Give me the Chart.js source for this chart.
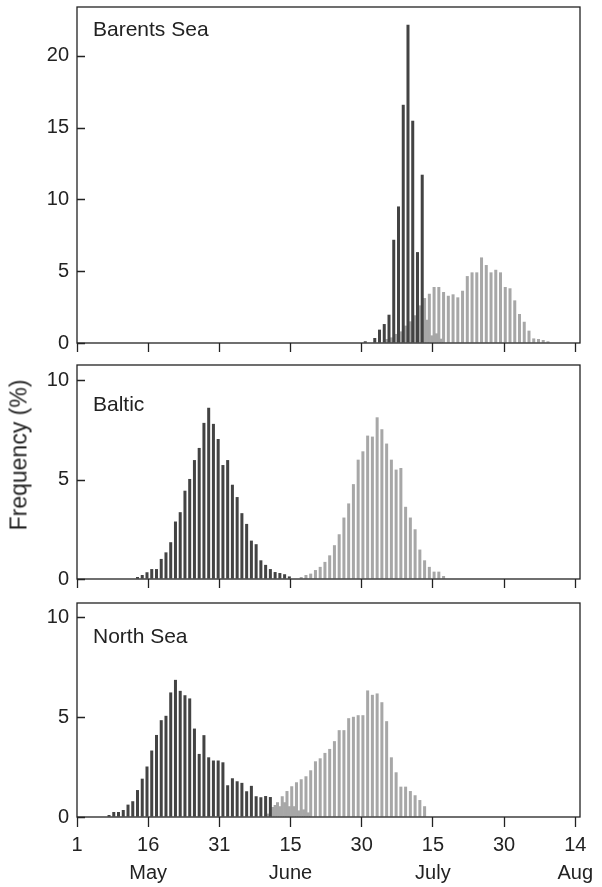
<!DOCTYPE html>
<html>
<head>
<meta charset="utf-8">
<script src="https://cdn.jsdelivr.net/npm/chart.js@4.4.1/dist/chart.umd.min.js"></script>
<style>
  body { margin: 0; background: #fff; width: 602px; height: 887px; position: relative; overflow: hidden;
         font-family: "Liberation Sans", Arial, sans-serif; }
  .panel { position: absolute; left: 0; width: 602px; }
  #ylab { position: absolute; left: 19px; top: 455px; transform: translate(-50%, -50%) rotate(-90deg);
          font-size: 23px; color: #222; white-space: nowrap; }
</style>
</head>
<body>
<div class="panel" style="top:0;height:352px"><canvas id="barents"></canvas></div>
<div class="panel" style="top:356px;height:232px"><canvas id="baltic"></canvas></div>
<div class="panel" style="top:592px;height:295px"><canvas id="northsea"></canvas></div>
<div id="ylab">Frequency (%)</div>
<script>
  // x axis: days since 1 May
  const tickDays = [0, 15, 30, 45, 60, 75, 90, 105];
  const tickLabels = ['1', '16', '31', '15', '30', '15', '30', '14'];
  const monthLabels = ['', 'May', '', 'June', '', 'July', '', 'Aug'];

  // Barents Sea
  const barentsEarlyStart = 61;
  const barentsEarly = [0.12, 0, 0.35, 0.93, 1.32, 1.97, 7.19, 9.51, 16.59, 22.16, 15.48, 6.33, 11.72,
    1.62, 0.53, 0.67, 0.30];
  const barentsLateStart = 65;
  const barentsLate = [0.28, 0.39, 0.63, 0.81, 1.21, 1.51, 1.93, 2.62, 3.13, 3.43, 3.90, 3.90, 3.55, 3.29,
    3.39, 3.18, 3.64, 4.66, 4.92, 4.92, 5.96, 5.43, 4.92, 5.10, 4.92, 3.90, 3.81, 2.97, 2.02, 1.48, 0.86,
    0.32, 0.28, 0.21, 0.12];

  // Baltic
  const balticEarlyStart = 13;
  const balticEarly = [0.10, 0.20, 0.34, 0.50, 0.50, 1.01, 1.34, 1.85, 2.89, 3.36, 4.44, 5.03, 5.98, 6.59,
    7.85, 8.61, 7.80, 7.04, 5.73, 5.98, 4.74, 4.12, 3.31, 2.77, 1.93, 1.75, 0.94, 0.71, 0.50, 0.35, 0.30,
    0.24, 0.13];
  const balticLateStart = 47;
  const balticLate = [0.10, 0.20, 0.27, 0.45, 0.61, 0.86, 1.19, 1.70, 2.25, 3.09, 3.80, 4.77, 6.00, 6.42,
    7.21, 7.16, 8.13, 7.53, 6.81, 6.00, 5.50, 5.58, 3.63, 3.09, 2.50, 1.48, 0.94, 0.61, 0.37, 0.37, 0.15];

  // North Sea
  const northEarlyStart = 7;
  const northEarly = [0.10, 0.25, 0.25, 0.35, 0.62, 0.79, 1.35, 1.92, 2.53, 3.33, 4.11, 4.85, 5.07, 6.24,
    6.87, 6.32, 6.10, 5.94, 4.43, 3.16, 4.10, 2.99, 2.83, 2.83, 2.74, 1.59, 1.94, 1.79, 1.71, 1.29, 1.56,
    1.04, 0.99, 1.05, 1.00, 0.60, 0.54, 0.74, 0.54, 0.54, 0.33, 0.38, 0.23];
  const northLateStart = 40;
  const northLate = [0.17, 0.50, 0.74, 1.04, 1.30, 1.54, 1.74, 1.89, 2.04, 2.34, 2.79, 2.94, 3.21, 3.41,
    3.80, 4.35, 4.35, 4.95, 5.02, 5.10, 5.10, 6.34, 6.12, 6.19, 5.75, 4.80, 2.99, 2.24, 1.52, 1.52, 1.30,
    1.09, 0.85, 0.54];

  const DARK = '#434343';
  const LIGHT = '#a7a7a7';
  const INK = '#222';
  const FONT = '"Liberation Sans", Arial, sans-serif';

  function toPoints(start, values) {
    return values.map((v, i) => ({ x: start + i, y: v }));
  }

  const panelDecor = {
    id: 'panelDecor',
    afterDraw(chart, args, opts) {
      const { ctx, chartArea: a } = chart;
      const y = chart.scales.y;
      ctx.save();
      ctx.strokeStyle = INK;
      ctx.lineWidth = 1.3;
      ctx.strokeRect(a.left, a.top, a.right - a.left, a.bottom - a.top);
      // inward y ticks
      ctx.beginPath();
      y.ticks.forEach(t => {
        const py = Math.round(y.getPixelForValue(t.value)) + 0.5;
        ctx.moveTo(a.left, py);
        ctx.lineTo(a.left + 8, py);
      });
      ctx.stroke();
      ctx.fillStyle = INK;
      ctx.font = '21px ' + FONT;
      ctx.textBaseline = 'middle';
      ctx.fillText(opts.text, a.left + 16, a.top + opts.dy);
      ctx.restore();
    }
  };

  function makePanel(id, name, labelDy, early, earlyStart, late, lateStart, yMax, yTicks, showX, padTop) {
    // early bars that sit under a taller late bar show in the light tone
    const earlyColor = c => {
      const day = earlyStart + c.dataIndex;
      const lateVal = late[day - lateStart];
      return lateVal !== undefined && lateVal > early[c.dataIndex] ? LIGHT : DARK;
    };
    new Chart(document.getElementById(id), {
      type: 'bar',
      data: {
        datasets: [{
          data: toPoints(earlyStart, early),
          backgroundColor: earlyColor,
        }, {
          data: toPoints(lateStart, late),
          backgroundColor: LIGHT,
        }]
      },
      options: {
        responsive: true,
        maintainAspectRatio: false,
        animation: false,
        categoryPercentage: 1.0,
        barPercentage: 1.27,
        layout: { padding: { top: padTop, right: 22, left: 0, bottom: 0 } },
        plugins: {
          legend: { display: false },
          tooltip: { enabled: false },
          panelDecor: { text: name, dy: labelDy }
        },
        scales: {
          x: {
            type: 'linear',
            min: 0,
            max: 106,
            offset: false,
            afterBuildTicks: s => { s.ticks = tickDays.map(v => ({ value: v })); },
            afterFit: s => { s.height = showX ? 70 : 9; s.paddingLeft = 0; s.paddingRight = 0; },
            border: { display: false },
            grid: { drawOnChartArea: false, drawTicks: true, tickLength: 10, tickColor: INK, tickWidth: 1.3, offset: false },
            ticks: {
              display: showX,
              autoSkip: false,
              maxRotation: 0,
              padding: 4,
              color: INK,
              font: { family: FONT, size: 20, lineHeight: 1.4 },
              callback: (v, i) => monthLabels[i] ? [tickLabels[i], monthLabels[i]] : tickLabels[i]
            }
          },
          y: {
            min: 0,
            max: yMax,
            afterBuildTicks: s => { s.ticks = yTicks.map(v => ({ value: v })); },
            afterFit: s => { s.width = 77; s.paddingTop = 0; s.paddingBottom = 0; },
            border: { display: false },
            grid: { drawOnChartArea: false, drawTicks: false },
            ticks: {
              padding: 8,
              color: INK,
              font: { family: FONT, size: 20 }
            }
          }
        }
      },
      plugins: [panelDecor]
    });
  }

  makePanel('barents', 'Barents Sea', 23, barentsEarly, barentsEarlyStart, barentsLate, barentsLateStart,
    23.4, [0, 5, 10, 15, 20], false, 7);
  makePanel('baltic', 'Baltic', 40, balticEarly, balticEarlyStart, balticLate, balticLateStart,
    10.76, [0, 5, 10], false, 9);
  makePanel('northsea', 'North Sea', 34, northEarly, northEarlyStart, northLate, northLateStart,
    10.72, [0, 5, 10], true, 11);
</script>
</body>
</html>
